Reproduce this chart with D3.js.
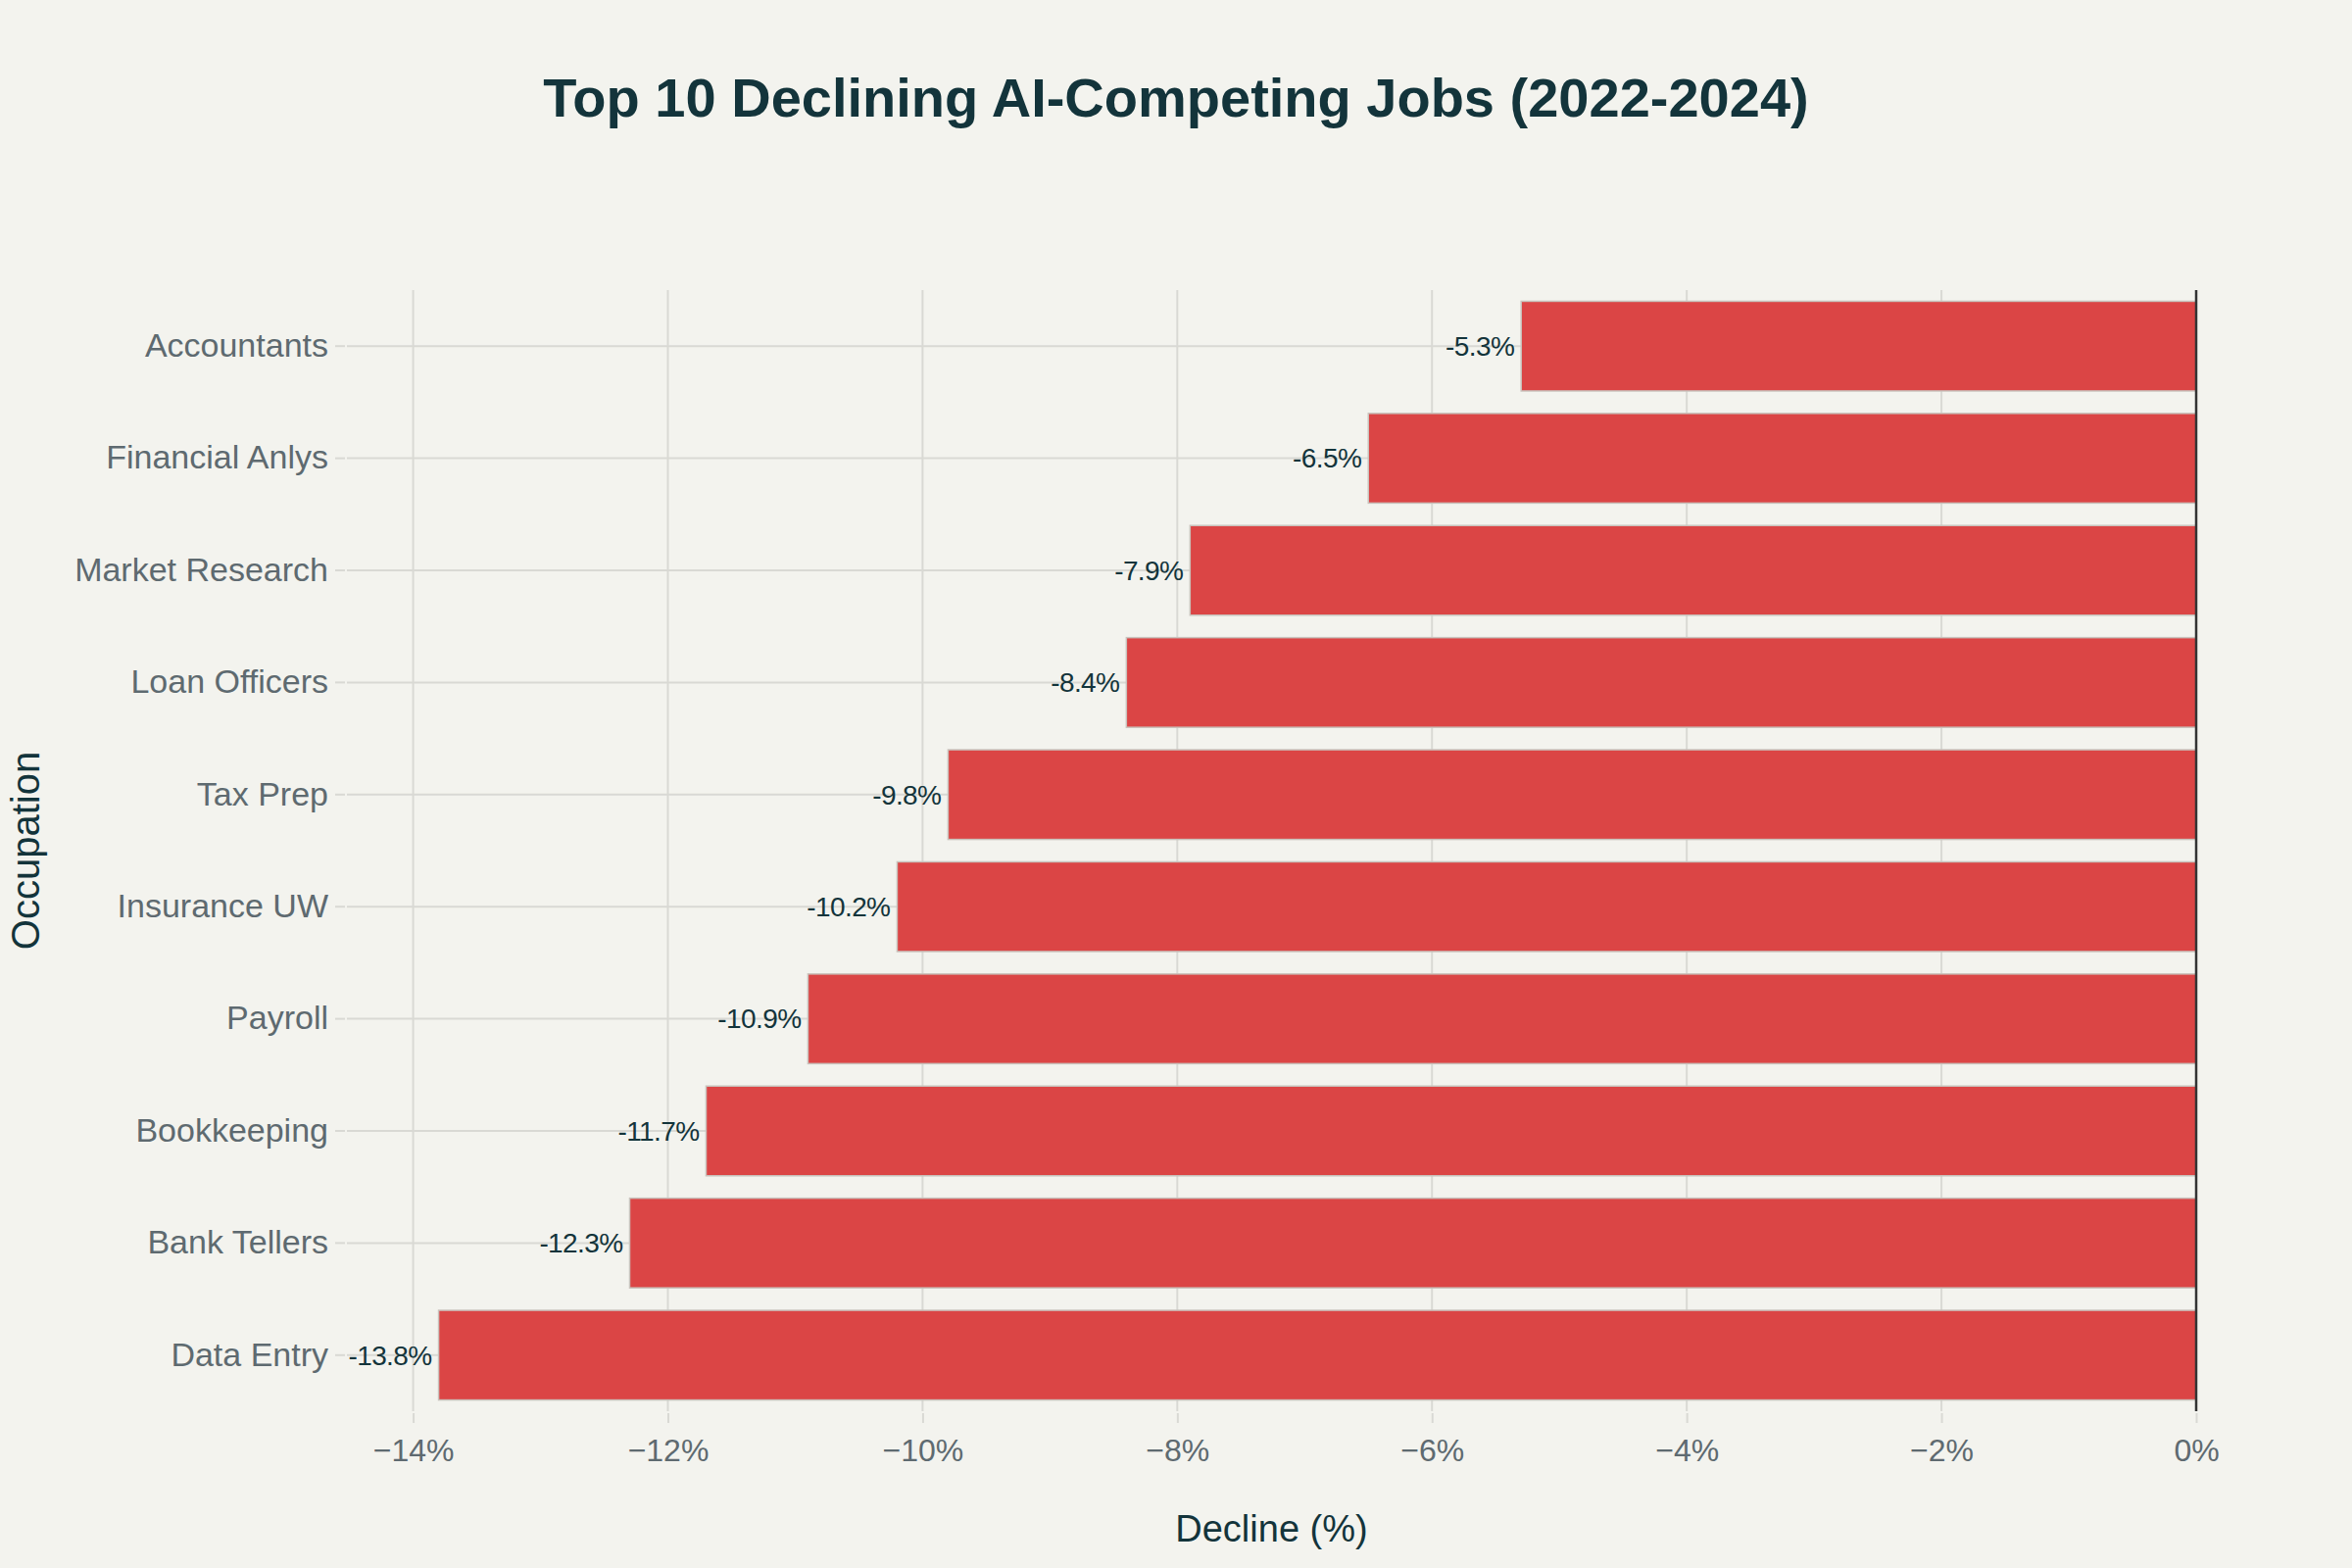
<!DOCTYPE html>
<html>
<head>
<meta charset="utf-8">
<script src="https://cdn.jsdelivr.net/npm/d3@7"></script>
<style>
  html, body { margin: 0; padding: 0; background: #F3F3EE; }
  svg { display: block; font-family: "Liberation Sans", Arial, sans-serif; }
</style>
</head>
<body>
<div id="chart"></div>
<script>
const occupations = [
  "Accountants", "Financial Anlys", "Market Research", "Loan Officers", "Tax Prep",
  "Insurance UW", "Payroll", "Bookkeeping", "Bank Tellers", "Data Entry",
];
const declines = [-5.3, -6.5, -7.9, -8.4, -9.8, -10.2, -10.9, -11.7, -12.3, -13.8];
const xTicks = [-14, -12, -10, -8, -6, -4, -2, 0];

const width = 2400;
const height = 1600;
const margin = { top: 296, right: 159, bottom: 160, left: 354 };
const ink = "#13343B";
const tickInk = "#5E6A70";
const gridColor = "#D9D9D4";

const rows = occupations.map((name, i) => ({ name, value: declines[i] }));

const svg = d3.select("#chart").append("svg")
  .attr("width", width)
  .attr("height", height)
  .attr("viewBox", `0 0 ${width} ${height}`);

svg.append("rect").attr("width", width).attr("height", height).attr("fill", "#F3F3EE");

const x = d3.scaleLinear()
  .domain([-14.52, 0])
  .range([margin.left, width - margin.right]);

const y = d3.scaleBand()
  .domain(occupations)
  .range([margin.top, height - margin.bottom])
  .paddingInner(0.2)
  .paddingOuter(0.1);

const plotBottom = height - margin.bottom;

// grid
svg.append("g")
  .selectAll("line")
  .data(xTicks.filter((d) => d !== 0))
  .join("line")
  .attr("x1", (d) => x(d))
  .attr("x2", (d) => x(d))
  .attr("y1", margin.top)
  .attr("y2", plotBottom)
  .attr("stroke", gridColor)
  .attr("stroke-width", 2);

svg.append("g")
  .selectAll("line")
  .data(occupations)
  .join("line")
  .attr("x1", margin.left)
  .attr("x2", x(0))
  .attr("y1", (d) => y(d) + y.bandwidth() / 2)
  .attr("y2", (d) => y(d) + y.bandwidth() / 2)
  .attr("stroke", gridColor)
  .attr("stroke-width", 2);

// x axis
const xAxis = svg.append("g")
  .attr("transform", `translate(0, ${plotBottom + 2})`)
  .call(d3.axisBottom(x).tickValues(xTicks).tickSize(10).tickPadding(16)
    .tickFormat((d) => (d < 0 ? "\u2212" + Math.abs(d) : d) + "%"))
  .call((g) => g.select(".domain").remove());
xAxis.selectAll("line").attr("stroke", gridColor).attr("stroke-width", 2);
xAxis.selectAll("text").attr("fill", tickInk).attr("font-size", 32).attr("font-family", null);

// y axis
const yAxis = svg.append("g")
  .attr("transform", `translate(${margin.left - 2}, 0)`)
  .call(d3.axisLeft(y).tickSize(10).tickPadding(7))
  .call((g) => g.select(".domain").remove());
yAxis.selectAll("line").attr("stroke", gridColor).attr("stroke-width", 2);
yAxis.selectAll("text").attr("fill", tickInk).attr("font-size", 34).attr("font-family", null);

// bars
svg.append("g")
  .selectAll("rect")
  .data(rows)
  .join("rect")
  .attr("x", (d) => x(d.value))
  .attr("y", (d) => y(d.name))
  .attr("width", (d) => x(0) - x(d.value))
  .attr("height", y.bandwidth())
  .attr("fill", "#DB4545")
  .attr("stroke", "#C9C2BC")
  .attr("stroke-width", 1.5);

// value labels
svg.append("g")
  .selectAll("text")
  .data(rows)
  .join("text")
  .attr("x", (d) => x(d.value) - 7)
  .attr("y", (d) => y(d.name) + y.bandwidth() / 2)
  .attr("dy", "0.35em")
  .attr("text-anchor", "end")
  .attr("font-size", 28)
  .attr("letter-spacing", -0.6)
  .attr("fill", ink)
  .text((d) => `${d.value}%`);

// zero line
svg.append("line")
  .attr("x1", x(0))
  .attr("x2", x(0))
  .attr("y1", margin.top)
  .attr("y2", plotBottom)
  .attr("stroke", "#333333")
  .attr("stroke-width", 2.5);

// titles
svg.append("text")
  .attr("x", width / 2)
  .attr("y", 119)
  .attr("text-anchor", "middle")
  .attr("font-size", 56)
  .attr("font-weight", "bold")
  .attr("fill", ink)
  .text("Top 10 Declining AI-Competing Jobs (2022-2024)");

svg.append("text")
  .attr("x", (margin.left + x(0)) / 2)
  .attr("y", 1573)
  .attr("text-anchor", "middle")
  .attr("font-size", 38)
  .attr("fill", ink)
  .text("Decline (%)");

svg.append("text")
  .attr("transform", `translate(40, ${(margin.top + plotBottom) / 2}) rotate(-90)`)
  .attr("text-anchor", "middle")
  .attr("font-size", 40)
  .attr("fill", ink)
  .text("Occupation");
</script>
</body>
</html>
